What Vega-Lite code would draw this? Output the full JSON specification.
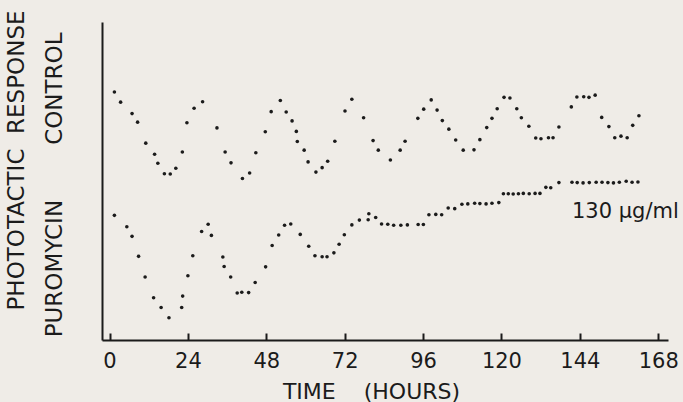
{
  "$schema": "https://vega.github.io/schema/vega-lite/v6.json",
  "width": 566,
  "height": 318,
  "autosize": {"type": "none"},
  "padding": {"left": 102, "top": 22, "right": 15, "bottom": 62},
  "background": "#efece7",
  "config": {"view": {"stroke": null}, "font": "DejaVu Sans"},
  "datasets": {
    "points": [
      {"series": "Control", "t": 1.5, "v": 78.0},
      {"series": "Control", "t": 3.4, "v": 74.8},
      {"series": "Control", "t": 6.9, "v": 71.2},
      {"series": "Control", "t": 8.6, "v": 68.5},
      {"series": "Control", "t": 11.1, "v": 61.9},
      {"series": "Control", "t": 13.8, "v": 58.4},
      {"series": "Control", "t": 14.8, "v": 55.6},
      {"series": "Control", "t": 16.8, "v": 52.3},
      {"series": "Control", "t": 18.6, "v": 52.2},
      {"series": "Control", "t": 20.3, "v": 54.0},
      {"series": "Control", "t": 22.3, "v": 59.1},
      {"series": "Control", "t": 23.7, "v": 68.3},
      {"series": "Control", "t": 25.9, "v": 72.9},
      {"series": "Control", "t": 28.5, "v": 74.9},
      {"series": "Control", "t": 32.9, "v": 66.7},
      {"series": "Control", "t": 35.4, "v": 59.1},
      {"series": "Control", "t": 37.2, "v": 55.7},
      {"series": "Control", "t": 40.7, "v": 50.8},
      {"series": "Control", "t": 42.9, "v": 52.5},
      {"series": "Control", "t": 44.8, "v": 58.9},
      {"series": "Control", "t": 47.7, "v": 65.5},
      {"series": "Control", "t": 49.5, "v": 71.8},
      {"series": "Control", "t": 52.3, "v": 75.3},
      {"series": "Control", "t": 54.1, "v": 71.7},
      {"series": "Control", "t": 55.9, "v": 68.9},
      {"series": "Control", "t": 57.2, "v": 65.6},
      {"series": "Control", "t": 57.5, "v": 62.4},
      {"series": "Control", "t": 59.6, "v": 59.7},
      {"series": "Control", "t": 60.8, "v": 56.0},
      {"series": "Control", "t": 63.2, "v": 52.8},
      {"series": "Control", "t": 65.1, "v": 54.2},
      {"series": "Control", "t": 66.8, "v": 56.2},
      {"series": "Control", "t": 69.0, "v": 62.5},
      {"series": "Control", "t": 72.1, "v": 72.0},
      {"series": "Control", "t": 74.2, "v": 75.7},
      {"series": "Control", "t": 77.8, "v": 69.9},
      {"series": "Control", "t": 80.7, "v": 62.7},
      {"series": "Control", "t": 82.3, "v": 59.7},
      {"series": "Control", "t": 86.0, "v": 56.6},
      {"series": "Control", "t": 89.0, "v": 59.7},
      {"series": "Control", "t": 90.5, "v": 62.5},
      {"series": "Control", "t": 94.4, "v": 69.7},
      {"series": "Control", "t": 96.2, "v": 72.6},
      {"series": "Control", "t": 98.5, "v": 75.5},
      {"series": "Control", "t": 100.3, "v": 72.3},
      {"series": "Control", "t": 101.9, "v": 69.0},
      {"series": "Control", "t": 103.9, "v": 66.3},
      {"series": "Control", "t": 106.0, "v": 62.9},
      {"series": "Control", "t": 108.3, "v": 59.7},
      {"series": "Control", "t": 111.6, "v": 59.8},
      {"series": "Control", "t": 113.4, "v": 63.0},
      {"series": "Control", "t": 115.5, "v": 66.8},
      {"series": "Control", "t": 117.1, "v": 69.7},
      {"series": "Control", "t": 118.7, "v": 72.7},
      {"series": "Control", "t": 120.8, "v": 76.3},
      {"series": "Control", "t": 122.6, "v": 76.1},
      {"series": "Control", "t": 124.7, "v": 72.7},
      {"series": "Control", "t": 126.1, "v": 69.9},
      {"series": "Control", "t": 128.4, "v": 67.2},
      {"series": "Control", "t": 130.5, "v": 63.5},
      {"series": "Control", "t": 132.1, "v": 63.3},
      {"series": "Control", "t": 134.4, "v": 63.6},
      {"series": "Control", "t": 135.8, "v": 63.6},
      {"series": "Control", "t": 137.6, "v": 67.0},
      {"series": "Control", "t": 141.4, "v": 73.3},
      {"series": "Control", "t": 143.1, "v": 76.4},
      {"series": "Control", "t": 145.2, "v": 76.5},
      {"series": "Control", "t": 146.8, "v": 76.3},
      {"series": "Control", "t": 148.7, "v": 77.0},
      {"series": "Control", "t": 150.7, "v": 70.0},
      {"series": "Control", "t": 152.9, "v": 67.1},
      {"series": "Control", "t": 154.7, "v": 63.6},
      {"series": "Control", "t": 156.6, "v": 64.1},
      {"series": "Control", "t": 158.5, "v": 63.6},
      {"series": "Control", "t": 160.2, "v": 67.5},
      {"series": "Control", "t": 162.1, "v": 70.5},
      {"series": "Puromycin", "t": 1.5, "v": 39.2},
      {"series": "Puromycin", "t": 5.3, "v": 35.6},
      {"series": "Puromycin", "t": 6.9, "v": 32.6},
      {"series": "Puromycin", "t": 8.9, "v": 26.3},
      {"series": "Puromycin", "t": 10.9, "v": 19.8},
      {"series": "Puromycin", "t": 13.5, "v": 13.3},
      {"series": "Puromycin", "t": 15.8, "v": 10.2},
      {"series": "Puromycin", "t": 18.2, "v": 7.0},
      {"series": "Puromycin", "t": 22.1, "v": 10.2},
      {"series": "Puromycin", "t": 22.4, "v": 13.8},
      {"series": "Puromycin", "t": 24.0, "v": 20.2},
      {"series": "Puromycin", "t": 25.5, "v": 26.5},
      {"series": "Puromycin", "t": 28.2, "v": 34.1},
      {"series": "Puromycin", "t": 30.2, "v": 36.4},
      {"series": "Puromycin", "t": 31.2, "v": 32.9},
      {"series": "Puromycin", "t": 34.7, "v": 26.1},
      {"series": "Puromycin", "t": 35.1, "v": 23.1},
      {"series": "Puromycin", "t": 37.1, "v": 19.8},
      {"series": "Puromycin", "t": 39.1, "v": 14.8},
      {"series": "Puromycin", "t": 40.5, "v": 15.0},
      {"series": "Puromycin", "t": 42.6, "v": 14.9},
      {"series": "Puromycin", "t": 44.6, "v": 18.1},
      {"series": "Puromycin", "t": 47.8, "v": 23.0},
      {"series": "Puromycin", "t": 49.8, "v": 29.7},
      {"series": "Puromycin", "t": 51.8, "v": 33.0},
      {"series": "Puromycin", "t": 53.6, "v": 36.1},
      {"series": "Puromycin", "t": 55.5, "v": 36.5},
      {"series": "Puromycin", "t": 58.4, "v": 33.2},
      {"series": "Puromycin", "t": 61.0, "v": 29.5},
      {"series": "Puromycin", "t": 62.9, "v": 26.5},
      {"series": "Puromycin", "t": 65.1, "v": 26.2},
      {"series": "Puromycin", "t": 66.6, "v": 26.2},
      {"series": "Puromycin", "t": 68.7, "v": 27.4},
      {"series": "Puromycin", "t": 70.3, "v": 30.1},
      {"series": "Puromycin", "t": 71.9, "v": 33.1},
      {"series": "Puromycin", "t": 74.2, "v": 36.2},
      {"series": "Puromycin", "t": 76.5, "v": 37.7},
      {"series": "Puromycin", "t": 79.2, "v": 37.8},
      {"series": "Puromycin", "t": 79.4, "v": 39.7},
      {"series": "Puromycin", "t": 81.5, "v": 38.5},
      {"series": "Puromycin", "t": 83.3, "v": 36.5},
      {"series": "Puromycin", "t": 85.2, "v": 36.4},
      {"series": "Puromycin", "t": 87.0, "v": 36.1},
      {"series": "Puromycin", "t": 89.2, "v": 36.1},
      {"series": "Puromycin", "t": 91.2, "v": 36.2},
      {"series": "Puromycin", "t": 94.5, "v": 36.3},
      {"series": "Puromycin", "t": 96.1, "v": 36.3},
      {"series": "Puromycin", "t": 97.8, "v": 39.4},
      {"series": "Puromycin", "t": 99.9, "v": 39.5},
      {"series": "Puromycin", "t": 101.7, "v": 39.4},
      {"series": "Puromycin", "t": 103.7, "v": 41.5},
      {"series": "Puromycin", "t": 105.7, "v": 41.3},
      {"series": "Puromycin", "t": 107.9, "v": 42.7},
      {"series": "Puromycin", "t": 109.7, "v": 42.8},
      {"series": "Puromycin", "t": 111.8, "v": 43.0},
      {"series": "Puromycin", "t": 113.4, "v": 42.9},
      {"series": "Puromycin", "t": 115.3, "v": 42.8},
      {"series": "Puromycin", "t": 117.1, "v": 43.0},
      {"series": "Puromycin", "t": 119.2, "v": 43.2},
      {"series": "Puromycin", "t": 120.6, "v": 46.0},
      {"series": "Puromycin", "t": 122.1, "v": 46.0},
      {"series": "Puromycin", "t": 123.6, "v": 45.9},
      {"series": "Puromycin", "t": 125.2, "v": 46.0},
      {"series": "Puromycin", "t": 126.7, "v": 46.1},
      {"series": "Puromycin", "t": 128.5, "v": 46.0},
      {"series": "Puromycin", "t": 130.3, "v": 46.1},
      {"series": "Puromycin", "t": 131.8, "v": 46.1},
      {"series": "Puromycin", "t": 133.6, "v": 48.0},
      {"series": "Puromycin", "t": 135.1, "v": 47.9},
      {"series": "Puromycin", "t": 137.6, "v": 49.5},
      {"series": "Puromycin", "t": 141.6, "v": 49.6},
      {"series": "Puromycin", "t": 143.2, "v": 49.5},
      {"series": "Puromycin", "t": 145.0, "v": 49.4},
      {"series": "Puromycin", "t": 146.9, "v": 49.5},
      {"series": "Puromycin", "t": 149.0, "v": 49.6},
      {"series": "Puromycin", "t": 150.8, "v": 49.6},
      {"series": "Puromycin", "t": 152.6, "v": 49.5},
      {"series": "Puromycin", "t": 154.3, "v": 49.4},
      {"series": "Puromycin", "t": 156.1, "v": 49.6},
      {"series": "Puromycin", "t": 158.2, "v": 49.9},
      {"series": "Puromycin", "t": 160.0, "v": 49.6},
      {"series": "Puromycin", "t": 161.8, "v": 49.7}
    ],
    "notes": [
      {"t": 141.6, "v": 40.3, "label": "130 μg/ml"}
    ]
  },
  "layer": [
    {
      "data": {"name": "points"},
      "mark": {"type": "circle", "size": 13, "color": "#1b1b1b", "opacity": 1},
      "encoding": {
        "x": {
          "field": "t", "type": "quantitative",
          "scale": {"domain": [-2.3, 171], "nice": false, "zero": false},
          "axis": {
            "values": [0, 24, 48, 72, 96, 120, 144, 168],
            "title": "TIME\u00a0\u00a0\u00a0\u00a0(HOURS)",
            "grid": false,
            "domainColor": "#1b1b1b", "domainWidth": 2,
            "tickColor": "#1b1b1b", "tickWidth": 2, "tickSize": -7,
            "labelFontSize": 21, "labelColor": "#1b1b1b", "labelFont": "DejaVu Sans",
            "labelBaseline": "alphabetic", "labelPadding": 34,
            "labelFlush": false, "labelOverlap": false,
            "titleFont": "DejaVu Sans", "titleFontSize": 22, "titleFontWeight": "normal", "titleColor": "#1b1b1b",
            "titleX": 269, "titleY": 58, "titleAlign": "center", "titleBaseline": "alphabetic"
          }
        },
        "y": {
          "field": "v", "type": "quantitative",
          "scale": {"domain": [0, 100], "nice": false, "zero": false},
          "axis": {
            "values": [22.6, 79.2],
            "labelExpr": "datum.value > 50 ? 'CONTROL' : 'PUROMYCIN'",
            "title": "PHOTOTACTIC\u00a0\u00a0RESPONSE",
            "grid": false, "ticks": false, "tickSize": 0,
            "domainColor": "#1b1b1b", "domainWidth": 2,
            "labelAngle": -90, "labelAlign": "center", "labelBaseline": "middle",
            "labelPadding": 48, "labelFontSize": 23, "labelColor": "#1b1b1b", "labelFont": "DejaVu Sans",
            "labelFlush": false, "labelOverlap": false,
            "titleFont": "DejaVu Sans", "titleFontSize": 23, "titleFontWeight": "normal", "titleColor": "#1b1b1b",
            "titleX": -86, "titleY": 138, "titleAngle": -90, "titleAlign": "center", "titleBaseline": "middle"
          }
        }
      }
    },
    {
      "data": {"name": "notes"},
      "mark": {"type": "text", "align": "left", "baseline": "middle", "fontSize": 21, "color": "#1b1b1b", "font": "DejaVu Sans"},
      "encoding": {
        "x": {"field": "t", "type": "quantitative"},
        "y": {"field": "v", "type": "quantitative"},
        "text": {"field": "label"}
      }
    }
  ]
}
